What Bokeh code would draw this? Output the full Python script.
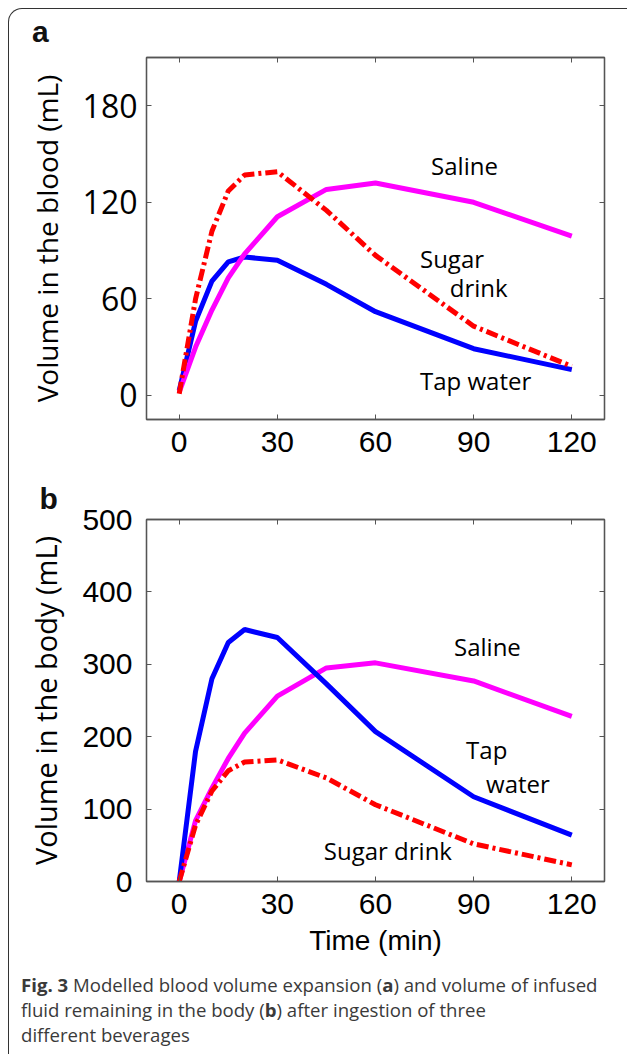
from bokeh.plotting import figure
from bokeh.models import Range1d, LinearAxis, FixedTicker, Label, Div
from bokeh.layouts import column
from bokeh.embed import file_html
from bokeh.resources import INLINE

# ---- data ----
time = [0, 5, 10, 15, 20, 30, 45, 60, 90, 120]

blood_tap = [3, 46, 71, 83, 86, 84, 69, 52, 29, 16]
blood_saline = [2, 30, 53, 73, 88, 111, 128, 132, 120, 99]
blood_sugar = [1, 60, 102, 127, 137, 139, 115, 87, 43, 18]

body_tap = [0, 180, 280, 330, 348, 337, 273, 207, 117, 64]
body_saline = [0, 84, 129, 170, 205, 256, 295, 302, 277, 228]
body_sugar = [0, 78, 125, 153, 165, 168, 143, 106, 52, 23]

x_ticks = [0, 30, 60, 90, 120]
blood_ticks = [0, 60, 120, 180]
body_ticks = [0, 100, 200, 300, 400, 500]

# labels: (text, x, y)
blood_labels = [("Saline", 77, 143), ("Sugar", 73.6, 85), ("drink", 82.7, 67), ("Tap water", 73.6, 9)]
body_labels = [("Saline", 84.0, 324), ("Tap", 87.7, 182), ("water", 93.8, 135), ("Sugar drink", 44.2, 43)]

BLUE, MAGENTA, RED = "#0000ff", "#ff00ff", "#ff0000"
FRAME = "#555555"
LABEL_FONT = "Open Sans"
NUM_FONT = "Liberation Sans"


def box_axis(ticks):
    return LinearAxis(ticker=FixedTicker(ticks=ticks), major_label_text_font_size="1px",
                      major_label_text_color=None,
                      major_tick_in=5, major_tick_out=0, minor_tick_in=0, minor_tick_out=0,
                      axis_line_color=FRAME, axis_line_width=1.3, major_tick_line_color=FRAME,
                      major_label_standoff=0)


def style(p, yticks, ytick_font, ytick_size, ylabel, ylabel_size, ystandoff):
    p.xgrid.visible = False
    p.ygrid.visible = False
    p.outline_line_color = FRAME
    p.outline_line_width = 1.3
    p.background_fill_color = "white"
    p.border_fill_color = "white"
    xa = p.below[0]
    xa.ticker = FixedTicker(ticks=x_ticks)
    ya = p.left[0]
    ya.ticker = FixedTicker(ticks=yticks)
    for ax in (xa, ya):
        ax.axis_line_color = FRAME
        ax.axis_line_width = 1.3
        ax.major_tick_line_color = FRAME
        ax.major_tick_in = 5
        ax.major_tick_out = 0
        ax.minor_tick_in = 0
        ax.minor_tick_out = 0
        ax.major_label_text_color = "black"
        ax.axis_label_text_color = "black"
        ax.axis_label_text_font_style = "normal"
    xa.major_label_text_font = NUM_FONT
    xa.major_label_text_font_size = "30px"
    xa.major_label_standoff = 12
    ya.major_label_text_font = ytick_font
    ya.major_label_text_font_size = ytick_size
    ya.major_label_standoff = ystandoff
    ya.axis_label = ylabel
    ya.axis_label_text_font = LABEL_FONT
    ya.axis_label_text_font_size = ylabel_size
    ya.axis_label_standoff = 14
    p.add_layout(box_axis(x_ticks), "above")
    p.add_layout(box_axis(yticks), "right")
    return xa, ya


letter_a = Div(text="a", width=611, height=36,
               styles={"font-family": "'Liberation Sans', Arial, sans-serif", "font-size": "30px",
                       "font-weight": "bold", "line-height": "36px", "color": "#111111",
                       "padding-left": "18px", "padding-top": "0px"})

# ---- panel a ----
pa = figure(width=611, height=416, x_range=Range1d(-10, 130), y_range=Range1d(-15, 210),
            output_backend="svg", toolbar_location=None,
            min_border_left=137, min_border_right=13, min_border_top=2, min_border_bottom=52)
pa.title.visible = False
style(pa, blood_ticks, LABEL_FONT, "32px", "Volume in the blood (mL)", "28px", 9)
pa.line(time, blood_tap, line_width=5, color=BLUE)
pa.line(time, blood_saline, line_width=5, color=MAGENTA)
pa.line(time, blood_sugar, line_width=5, color=RED, line_dash="12 4 3 4")
for t, x, y in blood_labels:
    pa.add_layout(Label(x=x, y=y, text=t, text_font=LABEL_FONT, text_font_size="24px",
                        text_color="black", text_align="left", text_baseline="alphabetic"))

# ---- panel b ----
pb = figure(width=611, height=495, x_range=Range1d(-10, 130), y_range=Range1d(0, 500),
            output_backend="svg", toolbar_location=None,
            min_border_left=134, min_border_right=16, min_border_top=48, min_border_bottom=85)
pb.title.text = "b"
pb.title.text_font = NUM_FONT
pb.title.text_font_size = "30px"
pb.title.text_font_style = "bold"
pb.title.text_color = "#111111"
pb.title.align = "left"
pb.title.offset = -107
pb.title.standoff = 10
xb, yb = style(pb, body_ticks, NUM_FONT, "30px", "Volume in the body (mL)", "29px", 14)
xb.axis_label = "Time (min)"
xb.axis_label_text_font = NUM_FONT
xb.axis_label_text_font_size = "28px"
xb.axis_label_standoff = 8
pb.line(time, body_saline, line_width=5, color=MAGENTA)
pb.line(time, body_tap, line_width=5, color=BLUE)
pb.line(time, body_sugar, line_width=5, color=RED, line_dash="12 4 3 4")
for t, x, y in body_labels:
    pb.add_layout(Label(x=x, y=y, text=t, text_font=LABEL_FONT, text_font_size="24px",
                        text_color="black", text_align="left", text_baseline="alphabetic"))

caption = Div(
    text=("<b>Fig. 3</b> Modelled blood volume expansion (<b>a</b>) and volume of infused<br>"
          "fluid remaining in the body (<b>b</b>) after ingestion of three<br>"
          "different beverages"),
    width=611, height=80,
    styles={"font-family": "'Open Sans', sans-serif", "font-size": "18.6px", "line-height": "25px",
            "color": "#3a3a3a", "padding-left": "7px", "padding-top": "1px"},
)

layout = column(letter_a, pa, pb, caption,
                styles={"margin-left": "8px", "margin-top": "8px",
                        "border-left": "1.5px solid #333333", "border-top": "1.5px solid #333333",
                        "border-top-left-radius": "14px"})

open("out.html", "w").write(file_html(layout, INLINE))
